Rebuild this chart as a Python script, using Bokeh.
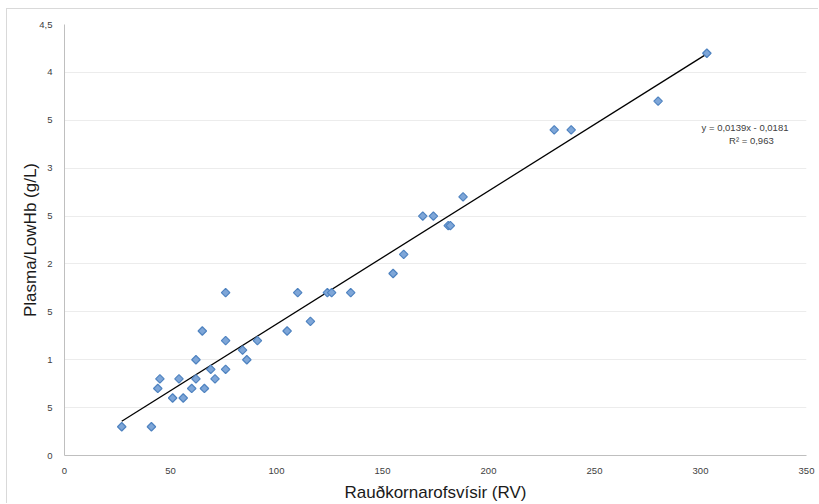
import math
from bokeh.plotting import figure
from bokeh.models import FixedTicker, Label, Range1d
from bokeh.embed import file_html
from bokeh.resources import INLINE

# Data
rv = [27, 41, 44, 45, 51, 54, 56, 60, 62, 62, 65, 66, 69, 71, 76, 76, 76, 84, 86, 91,
      105, 110, 116, 124, 126, 135, 155, 160, 169, 174, 181, 182, 188, 231, 239, 280, 303]
plasma = [0.3, 0.3, 0.7, 0.8, 0.6, 0.8, 0.6, 0.7, 0.8, 1.0, 1.3, 0.7, 0.9, 0.8, 1.2, 1.7, 0.9,
          1.1, 1.0, 1.2, 1.3, 1.7, 1.4, 1.7, 1.7, 1.7, 1.9, 2.1, 2.5, 2.5, 2.4, 2.4, 2.7,
          3.4, 3.4, 3.7, 4.2]

slope = 0.0139
intercept = -0.0181
r2_text = "R² = 0,963"
eq_text = "y = 0,0139x - 0,0181"

x_ticks = [0, 50, 100, 150, 200, 250, 300, 350]
y_ticks = [0, 0.5, 1, 1.5, 2, 2.5, 3, 3.5, 4, 4.5]
y_tick_labels = ["0", "5", "1", "5", "2", "5", "3", "5", "4", "4,5"]

FONT = "Liberation Sans"

p = figure(width=812, height=495, output_backend="svg", toolbar_location=None,
           x_range=Range1d(0, 350), y_range=Range1d(0, 4.5),
           min_border_left=57, min_border_top=15, min_border_right=13, min_border_bottom=49)
p.styles = {"margin-left": "6px", "margin-top": "8px",
            "border-top": "1px solid #d9d9d9", "border-left": "1px solid #d9d9d9"}
p.outline_line_color = None
p.background_fill_color = "white"
p.border_fill_color = "white"

p.xgrid.grid_line_color = None
p.ygrid.grid_line_color = "#ececec"
p.ygrid.ticker = FixedTicker(ticks=y_ticks)

p.xaxis.ticker = FixedTicker(ticks=x_ticks)
p.yaxis.ticker = FixedTicker(ticks=y_ticks)
p.yaxis.major_label_overrides = {float(t): l for t, l in zip(y_ticks, y_tick_labels)}

for ax in (p.xaxis, p.yaxis):
    ax.axis_line_color = "#bfbfbf"
    ax.axis_line_width = 1
    ax.major_tick_line_color = None
    ax.minor_tick_line_color = None
    ax.major_label_text_font = FONT
    ax.major_label_text_font_size = "9.5px"
    ax.major_label_text_color = "#404040"
    ax.axis_label_text_font = FONT
    ax.axis_label_text_font_size = "17px"
    ax.axis_label_text_font_style = "normal"
    ax.axis_label_text_color = "#1a1a1a"

p.xaxis.axis_label = "Rauðkornarofsvísir (RV)"
p.yaxis.axis_label = "Plasma/LowHb (g/L)"
p.xaxis.major_label_standoff = 6
p.yaxis.major_label_standoff = 6
p.yaxis.axis_label_standoff = -4
p.xaxis.axis_label_standoff = 6

# Linear trendline across the data range
x0, x1 = min(rv), max(rv)
p.line([x0, x1], [slope * x0 + intercept, slope * x1 + intercept],
       line_color="black", line_width=1.3)

p.scatter(rv, plasma, marker="square", size=6, angle=math.pi / 4,
          fill_color="#7EA6D8", line_color="#4F83C0", line_width=1.2)

p.add_layout(Label(x=321, y=3.42, text=eq_text, text_align="center", text_baseline="middle",
                   text_font=FONT, text_font_size="9.5px", text_color="#404040"))
p.add_layout(Label(x=324, y=3.29, text=r2_text, text_align="center", text_baseline="middle",
                   text_font=FONT, text_font_size="9.5px", text_color="#404040"))

open("out.html", "w").write(file_html(p, INLINE))
